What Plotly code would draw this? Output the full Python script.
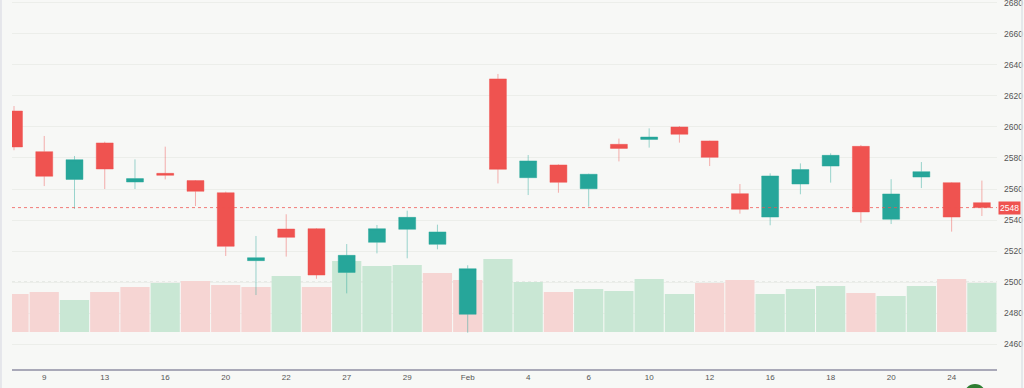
import plotly.graph_objects as go
from datetime import date

# ---- data ----
dates = ["2026-01-08", "2026-01-09", "2026-01-12", "2026-01-13", "2026-01-15", "2026-01-16",
         "2026-01-19", "2026-01-20", "2026-01-21", "2026-01-22", "2026-01-23", "2026-01-27",
         "2026-01-28", "2026-01-29", "2026-01-30", "2026-02-02", "2026-02-03", "2026-02-04",
         "2026-02-05", "2026-02-06", "2026-02-09", "2026-02-10", "2026-02-11", "2026-02-12",
         "2026-02-13", "2026-02-16", "2026-02-17", "2026-02-18", "2026-02-19", "2026-02-20",
         "2026-02-23", "2026-02-24", "2026-02-25"]
opens = [2610.3, 2584.1, 2566.2, 2589.7, 2564.5, 2570.1, 2565.4, 2557.6, 2513.8, 2534.2, 2534.4,
         2506.2, 2525.6, 2534.0, 2524.3, 2479.2, 2631.0, 2567.3, 2575.5, 2560.2, 2588.8, 2592.0,
         2600.0, 2591.0, 2557.0, 2541.9, 2563.2, 2574.8, 2587.5, 2540.5, 2567.7, 2564.1, 2551.2]
highs = [2613.5, 2594.2, 2581.3, 2590.5, 2579.1, 2587.3, 2565.8, 2558.3, 2529.7, 2543.7, 2534.8,
         2524.5, 2536.8, 2546.0, 2537.0, 2510.8, 2634.2, 2581.9, 2575.9, 2569.9, 2592.5, 2599.1,
         2600.6, 2591.2, 2563.2, 2570.1, 2576.5, 2583.0, 2588.4, 2566.3, 2577.4, 2564.4, 2565.4]
lows = [2585.0, 2561.9, 2547.1, 2560.0, 2560.0, 2566.2, 2549.0, 2516.8, 2491.6, 2516.4, 2502.1,
        2492.7, 2518.5, 2515.3, 2521.1, 2467.3, 2563.6, 2556.1, 2557.6, 2548.6, 2577.8, 2586.7,
        2589.9, 2574.8, 2544.1, 2536.6, 2556.6, 2564.1, 2538.3, 2537.4, 2560.6, 2532.5, 2542.6]
closes = [2587.1, 2568.2, 2578.9, 2572.9, 2566.7, 2568.8, 2558.5, 2523.0, 2515.7, 2528.8, 2504.5,
          2517.2, 2534.4, 2541.7, 2532.3, 2508.6, 2572.7, 2578.1, 2564.3, 2569.5, 2586.2, 2593.5,
          2595.3, 2580.4, 2546.9, 2568.4, 2572.5, 2581.7, 2545.2, 2556.8, 2571.2, 2541.9, 2548.0]
volumes = [380, 400, 320, 400, 450, 490, 510, 470, 450, 560, 450, 710, 660, 670, 590, 520, 730,
           500, 400, 430, 410, 530, 380, 490, 520, 380, 430, 460, 390, 360, 460, 530, 490]
price_ticks = [2460, 2480, 2500, 2520, 2540, 2560, 2580, 2600, 2620, 2640, 2660, 2680]
last_price = 2548

# ---- styles ----
RED = "#ef5350"
GREEN = "#26a69a"
VOL_RED = "#f6d5d3"
VOL_GREEN = "#c9e7d4"
BG = "#f7f8f6"

n = len(dates)
xs = list(range(n))
parsed = [date.fromisoformat(d) for d in dates]
tick_idx = list(range(1, n, 2))
tick_text = []
for i in tick_idx:
    if parsed[i].month != parsed[i - 1].month:
        tick_text.append(parsed[i].strftime("%b"))
    else:
        tick_text.append(str(parsed[i].day))

vol_colors = []
for i in range(n):
    if i == 0:
        up = closes[i] >= opens[i]
    else:
        up = closes[i] >= closes[i - 1]
    vol_colors.append(VOL_GREEN if up else VOL_RED)

fig = go.Figure()
fig.add_trace(go.Bar(x=xs, y=volumes, marker=dict(color=vol_colors, line=dict(width=0)),
                     yaxis="y", hoverinfo="skip", showlegend=False))
fig.add_trace(go.Candlestick(
    x=xs, open=opens, high=highs, low=lows, close=closes, yaxis="y2",
    increasing=dict(line=dict(color="rgba(38,166,154,0.45)", width=1), fillcolor=GREEN),
    decreasing=dict(line=dict(color="rgba(239,83,80,0.45)", width=1), fillcolor=RED),
    whiskerwidth=0, showlegend=False))

fig.update_layout(
    width=1024, height=388,
    margin=dict(l=12, r=27, t=0, b=19, autoexpand=False),
    paper_bgcolor=BG, plot_bgcolor=BG,
    boxgap=0.2, bargap=0.035,
    xaxis=dict(range=[-0.066, 32.5], tickvals=tick_idx, ticktext=tick_text,
               showgrid=False, zeroline=False, showline=True, linecolor="#a9a9b8", linewidth=1.5,
               ticks="", tickfont=dict(family="Liberation Sans", size=8, color="#555"),
               rangeslider=dict(visible=False), fixedrange=True),
    yaxis=dict(range=[-370, 3320], visible=False, showgrid=False, zeroline=False),
    yaxis2=dict(range=[2443.9, 2681.9], overlaying="y", side="right",
                tickvals=price_ticks, showgrid=True, gridcolor="#eceeea", gridwidth=1,
                zeroline=False, ticks="", ticklabelstandoff=6, ticklabeloverflow="allow",
                tickfont=dict(family="Liberation Sans", size=8.5, color="#555")),
)

# last price dotted line and label
fig.add_shape(type="line", xref="paper", x0=0, x1=1, yref="y2", y0=last_price, y1=last_price,
              line=dict(color="rgba(239,83,80,0.75)", width=1, dash="dot"))
fig.add_shape(type="line", xref="paper", x0=0, x1=1, yref="y2", y0=2500, y1=2500,
              line=dict(color="#d6dcd6", width=1, dash="dot"), layer="below")
fig.add_annotation(xref="paper", x=1, yref="y2", y=last_price, text=str(last_price),
                   xanchor="left", xshift=1, showarrow=False, bgcolor=RED, borderpad=1,
                   font=dict(family="Liberation Sans", size=8.5, color="white"))

# frame lines and corner badge
fig.add_shape(type="line", xref="paper", yref="paper", x0=-0.0112, x1=-0.0112, y0=-0.06, y1=1,
              line=dict(color="#dfe1e7", width=1.5))
fig.add_shape(type="line", xref="paper", yref="paper", x0=1.0254, x1=1.0254, y0=-0.06, y1=1,
              line=dict(color="#dfe1e7", width=1.5))
fig.add_shape(type="circle", xref="paper", yref="paper", x0=0.9665, x1=0.9888, y0=-0.10, y1=-0.0406,
              fillcolor="#2e7d32", line=dict(width=0))

fig.write_html("out.html", config={"displayModeBar": False},
               post_script="document.body.style.margin='0px';")
